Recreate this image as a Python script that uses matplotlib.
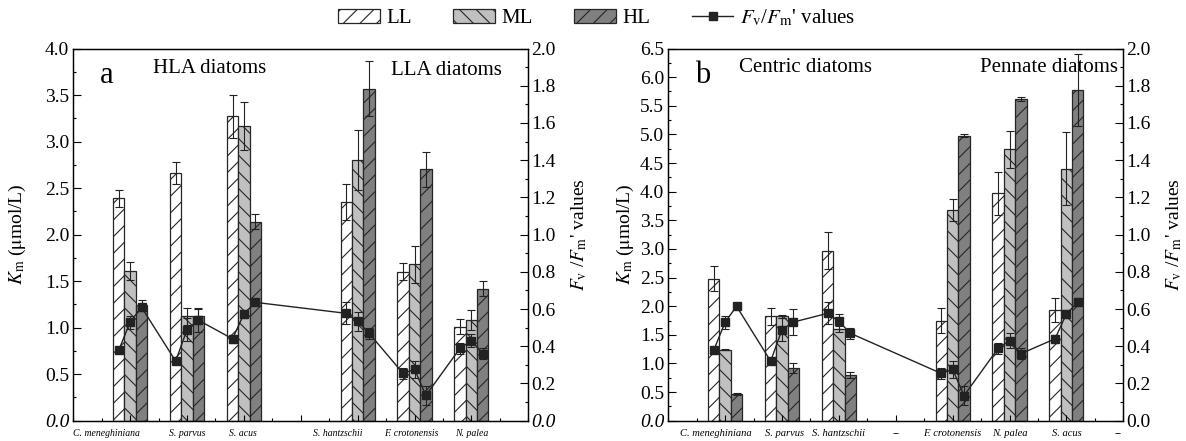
import numpy as np
from matplotlib import pyplot as plt
from matplotlib.ticker import MultipleLocator
from matplotlib.lines import Line2D
from matplotlib.transforms import ScaledTranslation

plt.rcParams['font.family'] = ['Liberation Serif', 'DejaVu Serif']
plt.rcParams['mathtext.fontset'] = 'stix'
plt.rcParams['hatch.linewidth'] = 0.8

# ---- panel a: HLA / LLA diatoms
ticks_a = ['C. meneghiniana', 'S. parvus', 'S. acus', '', 'S. hantzschii', 'F. crotonensis', 'N. palea']
pos_a = [1, 2, 3, 5, 6, 7]
km_ll_a = [2.39, 2.66, 3.27, 2.35, 1.60, 1.01]
km_ll_a_err = [0.09, 0.12, 0.23, 0.19, 0.09, 0.08]
km_ml_a = [1.61, 1.12, 3.17, 2.80, 1.68, 1.08]
km_ml_a_err = [0.10, 0.09, 0.26, 0.32, 0.20, 0.11]
km_hl_a = [1.24, 1.12, 2.14, 3.57, 2.70, 1.42]
km_hl_a_err = [0.06, 0.08, 0.08, 0.30, 0.19, 0.08]
fv_ll_a = [0.38, 0.32, 0.44, 0.577, 0.254, 0.389]
fv_ll_a_err = [0.01, 0.005, 0.02, 0.06, 0.03, 0.03]
fv_ml_a = [0.53, 0.49, 0.574, 0.534, 0.276, 0.43]
fv_ml_a_err = [0.035, 0.06, 0.02, 0.05, 0.045, 0.035]
fv_hl_a = [0.61, 0.54, 0.636, 0.47, 0.136, 0.36]
fv_hl_a_err = [0.01, 0.065, 0.01, 0.03, 0.05, 0.03]

# ---- panel b: centric / pennate diatoms
ticks_b = ['C. meneghiniana', 'S. parvus', 'S. hantzschii', '--', 'F. crotonensis', 'N. palea', 'S. acus', '--']
pos_b = [1, 2, 3, 5, 6, 7]
km_ll_b = [2.48, 1.82, 2.97, 1.75, 3.97, 1.93]
km_ll_b_err = [0.22, 0.14, 0.32, 0.22, 0.37, 0.21]
km_ml_b = [1.24, 1.82, 1.60, 3.68, 4.74, 4.40]
km_ml_b_err = [0.01, 0.02, 0.05, 0.20, 0.32, 0.64]
km_hl_b = [0.47, 0.92, 0.80, 4.98, 5.62, 5.77]
km_hl_b_err = [0.02, 0.08, 0.05, 0.03, 0.04, 0.63]
fv_ll_b = [0.38, 0.32, 0.577, 0.254, 0.389, 0.44]
fv_ll_b_err = [0.01, 0.005, 0.06, 0.03, 0.03, 0.02]
fv_ml_b = [0.53, 0.49, 0.534, 0.276, 0.43, 0.574]
fv_ml_b_err = [0.035, 0.06, 0.04, 0.045, 0.04, 0.02]
fv_hl_b = [0.615, 0.53, 0.47, 0.135, 0.36, 0.636]
fv_hl_b_err = [0.01, 0.07, 0.03, 0.05, 0.03, 0.01]

levels = ['LL', 'ML', 'HL']
colors = ['white', '#c0c0c0', '#808080']
hatches = ['//', '\\\\', '//']
width = 0.2
edge = '#262626'

fig = plt.figure(figsize=(11.86, 4.41), dpi=100)


def draw_panel(ax, pos, ticks, shifts, xsize, km, km_err, fv, fv_err, ymax, zero_right_italic):
    pos = np.array(pos, dtype=float)
    bars = []
    for i in range(3):
        b = ax.bar(pos + (i - 1) * width, km[i], width, yerr=km_err[i],
                   color=colors[i], edgecolor=edge, hatch=hatches[i], linewidth=0.9,
                   capsize=3, error_kw=dict(elinewidth=0.8, capthick=0.8, ecolor='#222'),
                   label=levels[i])
        bars.append(b)
    ax.set_xlim(0, 8)
    ax.set_ylim(0, ymax)
    ax.set_xticks(range(1, len(ticks) + 1), ticks, fontstyle='italic', fontsize=xsize)
    ax.xaxis.set_minor_locator(MultipleLocator(0.5))
    yt = np.arange(0, ymax + 0.01, 0.5)
    ax.set_yticks(yt, [f'{v:.1f}' for v in yt])
    ax.yaxis.set_minor_locator(MultipleLocator(0.25))
    ax.tick_params(axis='x', which='major', direction='in', length=4, width=0.8, pad=6)
    ax.tick_params(axis='x', which='minor', direction='in', length=2, width=0.8)
    ax.tick_params(axis='y', which='major', direction='in', length=6, width=0.8, labelsize=14, pad=3)
    ax.tick_params(axis='y', which='minor', direction='in', length=2.5, width=0.8)
    ax.set_ylabel(r'$K_\mathrm{m}$ ($\mathrm{\mu}$mol/L)', fontsize=14)
    ax.yaxis.get_major_ticks()[0].label1.set_fontstyle('italic')
    # the original labels are not all centred under their ticks
    for t, dx in zip(ax.xaxis.get_major_ticks(), shifts):
        t.label1.set_transform(t.label1.get_transform()
                               + ScaledTranslation(dx / 72, 0, fig.dpi_scale_trans))

    # Fv/Fm line on the right axis
    ax2 = ax.twinx()
    xs, ys, es = [], [], []
    for j in range(len(pos)):
        for i in range(3):
            xs.append(pos[j] + (i - 1) * width)
            ys.append(fv[i][j])
            es.append(fv_err[i][j])
    ax2.errorbar(xs, ys, yerr=es, fmt='-s', color='#222', ms=5.5, lw=1,
                 capsize=3, elinewidth=0.8, capthick=0.8)
    ax2.set_ylim(0, 2.0)
    yt2 = np.arange(0, 2.01, 0.2)
    ax2.set_yticks(yt2, [f'{v:.1f}' for v in yt2])
    ax2.yaxis.set_minor_locator(MultipleLocator(0.1))
    ax2.tick_params(axis='y', which='major', direction='in', length=6, width=0.8, labelsize=14, pad=2)
    ax2.tick_params(axis='y', which='minor', direction='in', length=2.5, width=0.8)
    ax2.set_ylabel(r"$F_\mathrm{v}$ /$F_\mathrm{m}$' values", fontsize=14)
    ax2.yaxis.set_label_coords(1.09, 0.5)
    if zero_right_italic:
        ax2.yaxis.get_major_ticks()[0].label2.set_fontstyle('italic')

    for a in (ax, ax2):
        for s in a.spines.values():
            s.set_linewidth(0.9)
    return bars


ax_a = fig.add_axes([0.0618, 0.046, 0.3836, 0.844])
ax_b = fig.add_axes([0.5635, 0.046, 0.3836, 0.844])

bars = draw_panel(ax_a, pos_a, ticks_a, [-17, 0, -1, 0, -14, -2, 0], 7,
                  [km_ll_a, km_ml_a, km_hl_a], [km_ll_a_err, km_ml_a_err, km_hl_a_err],
                  [fv_ll_a, fv_ml_a, fv_hl_a], [fv_ll_a_err, fv_ml_a_err, fv_hl_a_err],
                  4.0, True)
draw_panel(ax_b, pos_b, ticks_b, [-7, 2, 0, 0, 0, 0, 0, -4], 7.6,
           [km_ll_b, km_ml_b, km_hl_b], [km_ll_b_err, km_ml_b_err, km_hl_b_err],
           [fv_ll_b, fv_ml_b, fv_hl_b], [fv_ll_b_err, fv_ml_b_err, fv_hl_b_err],
           6.5, False)
ax_a.yaxis.set_label_coords(-0.10, 0.5)
ax_b.yaxis.set_label_coords(-0.07, 0.5)

ax_a.text(0.059, 0.907, 'a', transform=ax_a.transAxes, fontsize=22, va='baseline')
ax_a.text(0.175, 0.934, 'HLA diatoms', transform=ax_a.transAxes, fontsize=15, va='baseline')
ax_a.text(0.698, 0.929, 'LLA diatoms', transform=ax_a.transAxes, fontsize=15, va='baseline')
ax_b.text(0.059, 0.907, 'b', transform=ax_b.transAxes, fontsize=22, va='baseline')
ax_b.text(0.155, 0.937, 'Centric diatoms', transform=ax_b.transAxes, fontsize=15, va='baseline')
ax_b.text(0.685, 0.937, 'Pennate diatoms', transform=ax_b.transAxes, fontsize=15, va='baseline')

line_handle = Line2D([], [], color='#222', marker='s', ms=5.5, lw=1)
fig.legend(bars + [line_handle], levels + [r"$F_\mathrm{v}$/$F_\mathrm{m}$' values"],
           loc='center', bbox_to_anchor=(0.503, 0.959), ncol=4, frameon=False,
           fontsize=15, handlelength=2.0, handleheight=0.7, handletextpad=0.3,
           columnspacing=2.0)

fig.savefig('out.png', dpi=100)
